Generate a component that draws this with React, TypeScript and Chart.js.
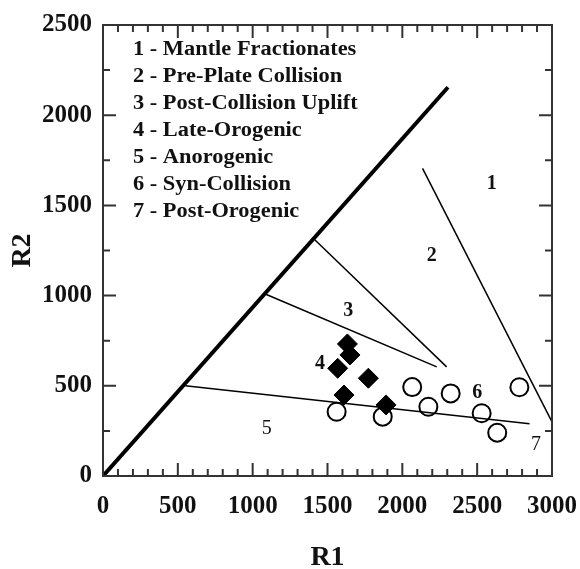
import { useEffect, useRef } from 'react';
import { Chart, registerables } from 'chart.js';

Chart.register(...registerables);

// Axis ticks
const xTickValues = [0, 500, 1000, 1500, 2000, 2500, 3000];
const yTickValues = [0, 500, 1000, 1500, 2000, 2500];

// Field boundaries, as (R1, R2) end points
const mainLineR1 = [0, 2305];
const mainLineR2 = [0, 2155];
const anorogenicR1 = [550, 2850];
const anorogenicR2 = [500, 290];
const lateOrogenicR1 = [1080, 2230];
const lateOrogenicR2 = [1010, 605];
const postCollisionR1 = [1415, 2296];
const postCollisionR2 = [1310, 605];
const mantleR1 = [2135, 3000];
const mantleR2 = [1705, 300];

// Samples
const diamondR1 = [1633, 1650, 1568, 1773, 1610, 1891];
const diamondR2 = [732, 671, 597, 542, 449, 394];
const circleR1 = [1561, 1869, 2066, 2174, 2323, 2530, 2634, 2782];
const circleR2 = [356, 329, 493, 384, 458, 348, 240, 492];

// Field key and field numbers
const fieldNames = [
  '1 - Mantle Fractionates',
  '2 - Pre-Plate Collision',
  '3 - Post-Collision Uplift',
  '4 - Late-Orogenic',
  '5 - Anorogenic',
  '6 - Syn-Collision',
  '7 - Post-Orogenic',
];
const fieldNumbers = ['1', '2', '3', '4', '5', '6', '7'];
const fieldLabelR1 = [2597, 2196, 1639, 1450, 1094, 2501, 2893];
const fieldLabelR2 = [1622, 1219, 916, 621, 264, 462, 172];
const fieldLabelBold = [true, true, true, true, false, true, false];

const SERIF = '"Liberation Serif", "Times New Roman", serif';

const toPoints = (xs: number[], ys: number[]) => xs.map((x, i) => ({ x, y: ys[i] }));

const boundary = (xs: number[], ys: number[], width: number) => ({
  type: 'line' as const,
  data: toPoints(xs, ys),
  showLine: true,
  borderColor: '#000',
  borderWidth: width,
  borderCapStyle: 'butt' as const,
  pointRadius: 0,
  fill: false,
});

const decorations = {
  id: 'decorations',
  afterDatasetsDraw(chart: any) {
    const { ctx, chartArea: a, scales } = chart;
    const xs = scales.x;
    const ys = scales.y;
    ctx.save();

    // frame
    ctx.strokeStyle = '#333';
    ctx.lineWidth = 2;
    ctx.strokeRect(a.left, a.top, a.right - a.left, a.bottom - a.top);

    // inward ticks on all four sides
    ctx.lineWidth = 2;
    ctx.beginPath();
    for (let v = 0; v <= 3000; v += 100) {
      const px = xs.getPixelForValue(v);
      const len = v % 500 === 0 ? 13 : 7;
      ctx.moveTo(px, a.bottom);
      ctx.lineTo(px, a.bottom - len);
      ctx.moveTo(px, a.top);
      ctx.lineTo(px, a.top + len);
    }
    for (let v = 0; v <= 2500; v += 250) {
      const py = ys.getPixelForValue(v);
      const len = v % 500 === 0 ? 13 : 7;
      ctx.moveTo(a.left, py);
      ctx.lineTo(a.left + len, py);
      ctx.moveTo(a.right, py);
      ctx.lineTo(a.right - len, py);
    }
    ctx.stroke();

    ctx.fillStyle = '#111';
    ctx.textAlign = 'center';
    ctx.textBaseline = 'middle';

    // field numbers
    fieldNumbers.forEach((t, i) => {
      ctx.font = `${fieldLabelBold[i] ? 'bold ' : ''}20px ${SERIF}`;
      ctx.fillText(t, xs.getPixelForValue(fieldLabelR1[i]), ys.getPixelForValue(fieldLabelR2[i]));
    });

    // field key
    ctx.textAlign = 'left';
    ctx.font = `bold 20px ${SERIF}`;
    fieldNames.forEach((t, i) => {
      ctx.save();
      ctx.translate(a.left + 30, a.top + 25 + i * 27);
      ctx.scale(1.12, 1);
      ctx.fillText(t, 0, 0);
      ctx.restore();
    });

    // axis titles
    ctx.textAlign = 'center';
    ctx.font = `bold 28px ${SERIF}`;
    ctx.fillText('R1', (a.left + a.right) / 2, a.bottom + 82);
    ctx.save();
    ctx.translate(a.left - 80, (a.top + a.bottom) / 2);
    ctx.rotate(-Math.PI / 2);
    ctx.fillText('R2', 0, 0);
    ctx.restore();

    ctx.restore();
  },
};

export default function App() {
  const canvasRef = useRef<HTMLCanvasElement | null>(null);

  useEffect(() => {
    const canvas = canvasRef.current;
    if (!canvas) return;
    const chart = new Chart(canvas, {
      type: 'scatter',
      data: {
        datasets: [
          boundary(mainLineR1, mainLineR2, 4),
          boundary(anorogenicR1, anorogenicR2, 1.5),
          boundary(lateOrogenicR1, lateOrogenicR2, 1.5),
          boundary(postCollisionR1, postCollisionR2, 1.5),
          boundary(mantleR1, mantleR2, 1.5),
          {
            type: 'scatter',
            data: toPoints(diamondR1, diamondR2),
            pointStyle: 'rectRot',
            pointRadius: 10,
            backgroundColor: '#000',
            borderColor: '#000',
            borderWidth: 1,
          },
          {
            type: 'scatter',
            data: toPoints(circleR1, circleR2),
            pointStyle: 'circle',
            pointRadius: 9,
            backgroundColor: 'rgba(0,0,0,0)',
            borderColor: '#000',
            borderWidth: 2,
          },
        ] as any,
      },
      options: {
        animation: false,
        responsive: true,
        maintainAspectRatio: false,
        layout: { padding: { top: 25, right: 28, left: 0, bottom: 0 } },
        plugins: { legend: { display: false }, tooltip: { enabled: false } },
        events: [],
        scales: {
          x: {
            type: 'linear',
            min: 0,
            max: 3000,
            afterFit: (s: any) => {
              s.height = 93;
              s.paddingLeft = 0;
              s.paddingRight = 0;
            },
            afterBuildTicks: (s: any) => {
              s.ticks = xTickValues.map((value) => ({ value }));
            },
            grid: { display: false, drawTicks: false },
            border: { display: false },
            ticks: {
              padding: 16,
              color: '#111',
              font: { family: SERIF, size: 25, weight: 'bold' },
              maxRotation: 0,
              callback: (v: any) => String(v),
            },
          },
          y: {
            type: 'linear',
            min: 0,
            max: 2500,
            afterFit: (s: any) => {
              s.width = 103;
              s.paddingTop = 0;
              s.paddingBottom = 0;
            },
            afterBuildTicks: (s: any) => {
              s.ticks = yTickValues.map((value) => ({ value }));
            },
            grid: { display: false, drawTicks: false },
            border: { display: false },
            ticks: {
              padding: 11,
              color: '#111',
              font: { family: SERIF, size: 25, weight: 'bold' },
              callback: (v: any) => String(v),
            },
          },
        },
      },
      plugins: [decorations],
    });
    return () => chart.destroy();
  }, []);

  return (
    <div style={{ position: 'fixed', left: 0, top: 0, width: 580, height: 569, background: '#fff' }}>
      <canvas ref={canvasRef} />
    </div>
  );
}
